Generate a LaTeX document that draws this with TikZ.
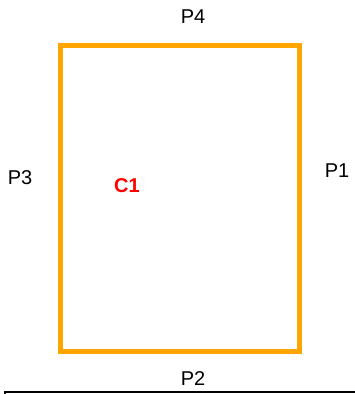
\documentclass[tikz,border=0pt]{standalone}
\usepackage{fontspec}
\setmainfont{Liberation Sans}
\usepackage{tikz}
\usetikzlibrary{positioning}
\definecolor{wallC}{RGB}{255,165,0}
\definecolor{cellC}{RGB}{255,0,0}

\begin{document}
\begin{tikzpicture}[
                  x=1pt,y=-1pt,
                  font=\fontsize{20}{24}\selectfont,
                  wall/.style={draw=wallC,line width=5pt},
                  lbl/.style={inner sep=0pt,text=black},
                  cell/.style={inner sep=0pt,text=cellC,font=\fontsize{20}{24}\selectfont\bfseries}
                ]
                \useasboundingbox (0,0) rectangle (354,394);
                \draw[wall] (60,45) rectangle (299,351);
                \node[cell] (c1) at (127,186) {C1};
                \node[lbl] (p4) at (193,17) {P4};
                \node[lbl] (p3) at (20,178) {P3};
                \node[lbl] (p1) at (337,171) {P1};
                \node[lbl] (p2) at (193,379) {P2};
                \draw[line width=2pt] (5,396) -- (5,391.5) -- (360,391.5);
                \end{tikzpicture}
\end{document}
